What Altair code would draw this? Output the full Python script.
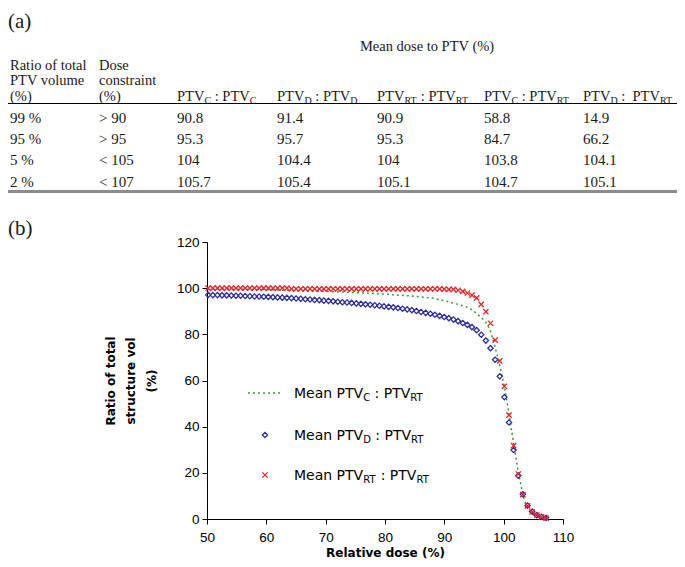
import altair as alt
import pandas as pd

# ---------------- (a) table values ----------------
panel_labels = ["(a)", "(b)"]
table_title = "Mean dose to PTV (%)"
head_ratio = ["Ratio of total", "PTV volume", "(%)"]
head_constraint = ["Dose", "constraint", "(%)"]
ratio_rows = ["99 %", "95 %", "5 %", "2 %"]
constraint_rows = ["> 90", "> 95", "< 105", "< 107"]
pair_subs = [("C", "C"), ("D", "D"), ("RT", "RT"), ("C", "RT"), ("D", "RT")]
pair_seps = [" : ", " : ", " : ", " : ", " :  "]
mean_c_c = [90.8, 95.3, 104, 105.7]
mean_d_d = [91.4, 95.7, 104.4, 105.4]
mean_rt_rt = [90.9, 95.3, 104, 105.1]
mean_c_rt = [58.8, 84.7, 103.8, 104.7]
mean_d_rt = [14.9, 66.2, 104.1, 105.1]

# ---------------- (b) DVH values ----------------
dose = [50.20, 50.98, 51.76, 52.54, 53.32, 54.10, 54.88, 55.66, 56.44, 57.22,
        58.00, 58.78, 59.56, 60.34, 61.12, 61.90, 62.68, 63.46, 64.24, 65.02,
        65.80, 66.58, 67.36, 68.14, 68.92, 69.70, 70.48, 71.26, 72.04, 72.82,
        73.60, 74.38, 75.16, 75.94, 76.72, 77.50, 78.28, 79.06, 79.84, 80.62,
        81.40, 82.18, 82.96, 83.74, 84.52, 85.30, 86.08, 86.86, 87.64, 88.42,
        89.20, 89.98, 90.76, 91.54, 92.32, 93.10, 93.88, 94.66, 95.44, 96.22,
        97.00, 97.78, 98.56, 99.34, 100.12, 100.90, 101.68, 102.46, 103.24, 104.02,
        104.80, 105.58, 106.36, 107.14]
vol_d_rt = [97.1, 97.0, 97.0, 96.9, 96.9, 96.8, 96.7, 96.7, 96.6, 96.5,
            96.4, 96.4, 96.3, 96.2, 96.1, 96.0, 95.9, 95.8, 95.7, 95.5,
            95.4, 95.2, 95.1, 94.9, 94.8, 94.6, 94.5, 94.3, 94.1, 93.9,
            93.8, 93.6, 93.4, 93.2, 93.0, 92.8, 92.6, 92.4, 92.1, 91.9,
            91.7, 91.4, 91.1, 90.8, 90.5, 90.1, 89.7, 89.3, 88.9, 88.5,
            88.0, 87.5, 87.0, 86.4, 85.7, 84.9, 84.1, 83.1, 81.8, 79.8,
            77.3, 74.0, 69.0, 61.8, 52.8, 41.8, 29.9, 18.8, 10.7, 5.8,
            3.2, 1.7, 1.0, 0.5]
vol_rt_rt = [100.0, 100.0, 100.0, 100.0, 100.0, 100.0, 100.0, 100.0, 100.0, 100.0,
             100.0, 100.0, 100.0, 100.0, 100.0, 100.0, 100.0, 100.0, 99.7, 99.7,
             99.7, 99.7, 99.7, 99.7, 99.7, 99.7, 99.7, 99.7, 99.7, 99.7,
             99.7, 99.7, 99.7, 99.7, 99.7, 99.7, 99.7, 99.7, 99.7, 99.7,
             99.7, 99.7, 99.7, 99.7, 99.7, 99.7, 99.7, 99.7, 99.7, 99.7,
             99.7, 99.6, 99.5, 99.5, 99.1, 98.6, 97.9, 97.0, 95.8, 93.0,
             89.8, 84.8, 77.5, 68.5, 57.5, 45.0, 31.8, 19.5, 10.6, 5.7,
             3.1, 1.7, 0.9, 0.4]
dose_c_rt = [50.0, 60.0, 64.0, 70.0, 75.0, 80.0, 85.0, 88.0, 90.0, 92.0,
             93.8, 94.4, 95.2, 96.1, 96.9, 97.4, 97.8, 98.2, 98.6, 99.2,
             99.6, 100.1, 100.8, 101.6, 102.4, 103.3, 104.0, 104.8, 105.6, 106.4,
             107.2]
vol_c_rt = [99.7, 99.4, 99.0, 98.6, 98.1, 97.4, 96.5, 95.7, 94.6, 93.2,
            91.8, 91.0, 89.5, 87.6, 85.6, 83.5, 81.2, 77.8, 74.0, 68.2,
            63.4, 57.8, 47.0, 34.0, 21.2, 9.8, 4.6, 2.2, 1.0, 0.4,
            0.1]
legend_subs = [("C", "RT"), ("D", "RT"), ("RT", "RT")]
x_ticks = [50, 60, 70, 80, 90, 100, 110]
y_ticks = [0, 20, 40, 60, 80, 100, 120]

# ---------------- styles / layout ----------------
W, H = 356, 277
SERIF = "Liberation Serif"
SANS = "DejaVu Sans"
INK = "#1a1a1a"
GREEN = "#3a9a3a"
BLUE = "#2e2e9e"
RED = "#ee2222"
COL_X = [-197, -108, -30, 70, 170, 277, 376]
ROW_IDX = list(range(-1, 11))
ROW_Y = [-214, -191, -172, -157, -141.5, -138.5, -119, -98, -77, -55.5, -50.5, -7]
TX = alt.Scale(domain=list(range(7)), range=COL_X, zero=False, nice=False)
TY = alt.Scale(domain=ROW_IDX, range=ROW_Y, zero=False, nice=False)
LY = alt.Scale(domain=[0, 1, 2], range=[151, 193, 233], zero=False, nice=False)

TIMES_W = {'P': .556, 'T': .611, 'V': .722, 'C': .667, 'D': .722, 'R': .667,
           ' ': .25, '\u00a0': .25, ':': .278}
DEJAVU_W = {'M': .863, 'e': .615, 'a': .613, 'n': .634, ' ': .318, '\u00a0': .318,
            'P': .603, 'T': .611, 'V': .684, ':': .337, 'C': .698, 'D': .770, 'R': .695}


def text_width(s, table, size):
    return sum(table[ch] for ch in s) * size


def split_lead(txt):
    """Leading spaces are dropped by SVG, so turn them into an offset."""
    stripped = txt.lstrip(" ")
    return stripped, txt[: len(txt) - len(stripped)]


def table_text(df, size, dx=0, dy=0, align="left", font=SERIF):
    return alt.Chart(df).mark_text(
        align=align, baseline="alphabetic", dx=dx, dy=dy, font=font,
        fontSize=size, color=INK
    ).encode(
        x=alt.X("col:Q", scale=TX, axis=None),
        y=alt.Y("row:Q", scale=TY, axis=None),
        text="t:N",
    )


table_layers = []
# panel labels
table_layers.append(table_text(pd.DataFrame({"col": [0, 0], "row": [-1, 10], "t": panel_labels}), 21, dx=-2))
# title
table_layers.append(table_text(pd.DataFrame({"col": [4], "row": [0], "t": [table_title]}), 14.5, dx=50, align="center"))
# left headers
hdr = []
for i, (a, b) in enumerate(zip(head_ratio, head_constraint)):
    hdr += [(0, 1 + i, a), (1, 1 + i, b)]
table_layers.append(table_text(pd.DataFrame(hdr, columns=["col", "row", "t"]), 14.5))
# comparison headers with subscripts
MAIN, SUB = 14.5, 10
for c, (s1, s2), sep in zip(range(2, 7), pair_subs, pair_seps):
    pieces = [("PTV", MAIN, 0), (s1, SUB, 3), (sep + "PTV", MAIN, 0), (s2, SUB, 3)]
    off = 0.0
    for txt, size, dy in pieces:
        body, lead = split_lead(txt)
        off += text_width(lead, TIMES_W, size)
        body = body.replace(" ", "\u00a0")
        df = pd.DataFrame({"col": [c], "row": [3], "t": [body]})
        table_layers.append(table_text(df, size, dx=off, dy=dy))
        off += text_width(body, TIMES_W, size)
# data cells
cells = []
for r, (a, b) in enumerate(zip(ratio_rows, constraint_rows)):
    cells += [(0, 5 + r, a), (1, 5 + r, b)]
for c, series in zip(range(2, 7), [mean_c_c, mean_d_d, mean_rt_rt, mean_c_rt, mean_d_rt]):
    for r, v in enumerate(series):
        cells.append((c, 5 + r, f"{v:g}"))
table_layers.append(table_text(pd.DataFrame(cells, columns=["col", "row", "t"]), 15))
# rules
table_layers.append(
    alt.Chart(pd.DataFrame({"row": [4]})).mark_rule(color="black", strokeWidth=1).encode(
        x=alt.value(-199), x2=alt.value(470), y=alt.Y("row:Q", scale=TY, axis=None)))
table_layers.append(
    alt.Chart(pd.DataFrame({"row": [9]})).mark_rule(color="#8c8c8c", strokeWidth=3).encode(
        x=alt.value(-199), x2=alt.value(470), y=alt.Y("row:Q", scale=TY, axis=None)))
table = alt.layer(*table_layers)

# ---------------- plot ----------------
x_axis = alt.Axis(values=x_ticks, title="Relative dose (%)", grid=False, domainColor="black",
                  tickColor="black", tickSize=5, labelFont="Liberation Sans", labelFontSize=13.5,
                  labelColor="black", labelPadding=6, labelFlush=False, titleFont=SANS,
                  titleFontSize=12, titleFontWeight="bold", titleColor="black",
                  titleY=33.5, titleBaseline="middle")
y_axis = alt.Axis(values=y_ticks, title=["Ratio of total", "structure vol", "(%)"], grid=False,
                  domainColor="black", tickColor="black", tickSize=5, labelFont="Liberation Sans",
                  labelFontSize=13.5, labelColor="black", labelPadding=3, labelFlush=False,
                  titleFont=SANS, titleFontSize=12, titleFontWeight="bold", titleColor="black",
                  titleAngle=270, titleX=-97, titleY=138.5, titleBaseline="middle",
                  titleAlign="center", titleLineHeight=20.5)
X = alt.X("dose:Q", scale=alt.Scale(domain=[50, 110], nice=False, zero=False), axis=x_axis)
Y = alt.Y("vol:Q", scale=alt.Scale(domain=[0, 120], nice=False), axis=y_axis)

green_df = pd.DataFrame({"dose": dose_c_rt, "vol": vol_c_rt})
blue_df = pd.DataFrame({"dose": dose, "vol": vol_d_rt})
red_df = pd.DataFrame({"dose": dose, "vol": vol_rt_rt})
XPATH = "M-1,-1L1,1M-1,1L1,-1"

green_line = alt.Chart(green_df).mark_line(color=GREEN, strokeWidth=1.5, strokeDash=[2, 3]).encode(x=X, y=Y)
blue_pts = alt.Chart(blue_df).mark_point(shape="diamond", filled=False, size=28, strokeWidth=1.3,
                                         color=BLUE, opacity=1).encode(x=X, y=Y)
red_pts = alt.Chart(red_df).mark_point(shape=XPATH, filled=False, size=28, strokeWidth=1.3,
                                       color=RED, opacity=1).encode(x=X, y=Y)
plot = alt.layer(green_line, blue_pts, red_pts)

# ---------------- legend (inside plot) ----------------
LEGY = alt.Y("entry:Q", scale=LY, axis=None)
legend_layers = [
    alt.Chart(pd.DataFrame({"entry": [0]})).mark_rule(color=GREEN, strokeWidth=1.5, strokeDash=[2, 3]).encode(
        x=alt.value(41), x2=alt.value(76), y=LEGY),
    alt.Chart(pd.DataFrame({"entry": [1]})).mark_point(shape="diamond", filled=False, size=28, strokeWidth=1.3,
                                                       color=BLUE, opacity=1).encode(x=alt.value(58), y=LEGY),
    alt.Chart(pd.DataFrame({"entry": [2]})).mark_point(shape=XPATH, filled=False, size=28, strokeWidth=1.3,
                                                       color=RED, opacity=1).encode(x=alt.value(58), y=LEGY),
]
LEG_MAIN, LEG_SUB = 14, 10
for e, (s1, s2) in enumerate(legend_subs):
    pieces = [("Mean PTV", LEG_MAIN, 5), (s1, LEG_SUB, 8), (" : PTV", LEG_MAIN, 5), (s2, LEG_SUB, 8)]
    off = 0.0
    for txt, size, dy in pieces:
        body, lead = split_lead(txt)
        off += text_width(lead, DEJAVU_W, size)
        body = body.replace(" ", "\u00a0")
        legend_layers.append(
            alt.Chart(pd.DataFrame({"entry": [e], "t": [body]})).mark_text(
                align="left", baseline="alphabetic", dx=off, dy=dy, font=SANS, fontSize=size, color="black"
            ).encode(x=alt.value(87), y=LEGY, text="t:N"))
        off += text_width(body, DEJAVU_W, size)
legend = alt.layer(*legend_layers)

chart = alt.layer(plot, table, legend).resolve_scale(
    x="independent", y="independent"
).properties(
    width=W, height=H,
    autosize=alt.AutoSizeParams(type="none"),
    padding={"left": 199, "top": 234, "right": 114, "bottom": 40},
    background="white",
).configure_view(stroke=None)

chart.save("out.html", embed_options={"renderer": "svg", "actions": False})
